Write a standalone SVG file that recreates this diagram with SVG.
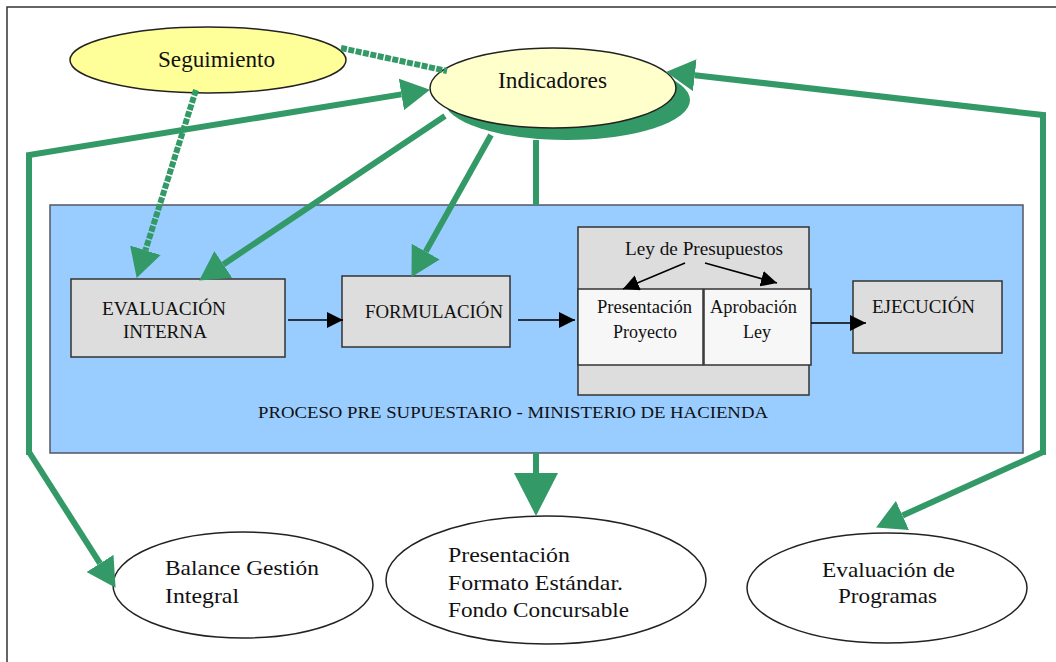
<svg xmlns="http://www.w3.org/2000/svg" width="1056" height="662" viewBox="0 0 1056 662">
<style>
.t{font-family:'Liberation Serif','DejaVu Serif',serif;fill:#111}
.box{fill:#dddddd;stroke:#333;stroke-width:1.5}
.wbox{fill:#f7f7f7;stroke:#333;stroke-width:1.5}
.ell{stroke:#222;stroke-width:1.5}
.g{fill:none;stroke:#339966;stroke-width:6;stroke-linejoin:miter}
.gd{fill:none;stroke:#339966;stroke-width:6;stroke-dasharray:6 1.5}
.k{fill:none;stroke:#000;stroke-width:1.5}
</style>
<defs>
<marker id="ga" markerUnits="userSpaceOnUse" markerWidth="30" markerHeight="32" refX="0" refY="16" orient="auto" viewBox="0 0 30 32"><path d="M0,0 L29,16 L0,32 z" fill="#339966"/></marker>
<marker id="gb" markerUnits="userSpaceOnUse" markerWidth="44" markerHeight="44" refX="0" refY="22" orient="auto" viewBox="0 0 44 44"><path d="M0,0 L43,22 L0,44 z" fill="#339966"/></marker>
<marker id="ka" markerUnits="userSpaceOnUse" markerWidth="16" markerHeight="16" refX="16" refY="8" orient="auto" viewBox="0 0 16 16"><path d="M0,0 L16,8 L0,16 z" fill="#000"/></marker>
</defs>
<rect width="1056" height="662" fill="#fff"/>
<path d="M7,662 L7,7 L1056,7" fill="none" stroke="#333" stroke-width="1.5"/>

<g id="proceso">
<rect x="50" y="205" width="973" height="248" fill="#99ccff" stroke="#556" stroke-width="1.5"/>
<text class="t" font-family="Liberation Serif, serif" x="258" y="418" font-size="17.3" textLength="510" lengthAdjust="spacingAndGlyphs">PROCESO PRE SUPUESTARIO - MINISTERIO DE HACIENDA</text>
</g>
<g id="evaluacion-interna">
<rect class="box" x="71" y="279" width="214" height="78"/>
<text class="t" x="102" y="315" font-size="19" textLength="124" lengthAdjust="spacingAndGlyphs">EVALUACIÓN</text>
<text class="t" x="123" y="338" font-size="19" textLength="84" lengthAdjust="spacingAndGlyphs">INTERNA</text>
</g>
<g id="formulacion">
<rect class="box" x="342" y="276" width="168" height="71"/>
<text class="t" x="365" y="318" font-size="18.8" textLength="138" lengthAdjust="spacingAndGlyphs">FORMULACIÓN</text>
</g>
<g id="ley-presupuestos">
<rect class="box" x="578" y="227" width="231" height="168"/>
<text class="t" x="625" y="255" font-size="18.2" textLength="158" lengthAdjust="spacingAndGlyphs">Ley de Presupuestos</text>
</g>
<g id="presentacion-proyecto">
<rect class="wbox" x="578" y="289" width="125" height="76"/>
<text class="t" x="597" y="313" font-size="18" textLength="95" lengthAdjust="spacingAndGlyphs">Presentación</text>
<text class="t" x="613" y="338" font-size="18" textLength="64" lengthAdjust="spacingAndGlyphs">Proyecto</text>
</g>
<g id="aprobacion-ley">
<rect class="wbox" x="704" y="289" width="107" height="76"/>
<text class="t" x="710" y="313" font-size="18" textLength="87" lengthAdjust="spacingAndGlyphs">Aprobación</text>
<text class="t" x="757" y="338" font-size="18" text-anchor="middle">Ley</text>
</g>
<g id="ejecucion">
<rect class="box" x="853" y="281" width="149" height="72"/>
<text class="t" x="872" y="313" font-size="19" textLength="103" lengthAdjust="spacingAndGlyphs">EJECUCIÓN</text>
</g>
<g id="seguimiento">
<ellipse class="ell" cx="208" cy="60" rx="138" ry="33" fill="#ffff99"/>
<text class="t" x="158" y="67" font-size="23" textLength="117" lengthAdjust="spacingAndGlyphs">Seguimiento</text>
</g>
<g id="indicadores">
<ellipse cx="567" cy="100" rx="123" ry="40" fill="#339966"/>
<ellipse class="ell" cx="553" cy="88" rx="123" ry="40" fill="#ffffcc"/>
<text class="t" x="498" y="88" font-size="23" textLength="109" lengthAdjust="spacingAndGlyphs">Indicadores</text>
</g>
<g id="balance">
<ellipse class="ell" cx="243" cy="585" rx="130" ry="53" fill="#fff"/>
<text class="t" x="165" y="575" font-size="22" textLength="154" lengthAdjust="spacingAndGlyphs">Balance Gestión</text>
<text class="t" x="165" y="603" font-size="22" textLength="74" lengthAdjust="spacingAndGlyphs">Integral</text>
</g>
<g id="presentacion-formato">
<ellipse class="ell" cx="546" cy="580" rx="160" ry="64" fill="#fff"/>
<text class="t" x="448" y="562" font-size="22" textLength="122" lengthAdjust="spacingAndGlyphs">Presentación</text>
<text class="t" x="448" y="590" font-size="22" textLength="175" lengthAdjust="spacingAndGlyphs">Formato Estándar.</text>
<text class="t" x="448" y="617" font-size="22" textLength="181" lengthAdjust="spacingAndGlyphs">Fondo Concursable</text>
</g>
<g id="evaluacion-programas">
<ellipse class="ell" cx="887" cy="588" rx="140" ry="55" fill="#fff"/>
<text class="t" x="822" y="577" font-size="22" textLength="133" lengthAdjust="spacingAndGlyphs">Evaluación de</text>
<text class="t" x="838" y="603" font-size="22" textLength="99" lengthAdjust="spacingAndGlyphs">Programas</text>
</g>

<g id="connectors">
<path class="gd" d="M341,48 L447,71"/>
<path class="gd" d="M196,90 L145.4,250.3" marker-end="url(#ga)"/>
<path class="g" d="M445,116 L223.3,264.4" marker-end="url(#ga)"/>
<path class="g" d="M491,135 L425.7,251.6" marker-end="url(#ga)"/>
<path class="g" d="M536,140 L536,205" stroke-width="7"/>
<path class="g" d="M536,453 L536,473" stroke-width="7" marker-end="url(#gb)"/>
<path class="g" d="M29,455 L29,155 L401.4,94.4" marker-end="url(#ga)"/>
<path class="g" d="M29,452 L100,563.4" marker-end="url(#ga)"/>
<path class="g" d="M1043,455 L1043,115 L694.8,75.2" marker-end="url(#ga)"/>
<path class="g" d="M1043,452 L902.5,515.5" marker-end="url(#ga)"/>
<path class="k" d="M288,320 L343,320" marker-end="url(#ka)"/>
<path class="k" d="M518,320 L575,320" marker-end="url(#ka)"/>
<path class="k" d="M685,263 L623,289" marker-end="url(#ka)"/>
<path class="k" d="M705,263 L777,283" marker-end="url(#ka)"/>
<path class="k" d="M811,323 L866,323" marker-end="url(#ka)"/>
</g>
</svg>
